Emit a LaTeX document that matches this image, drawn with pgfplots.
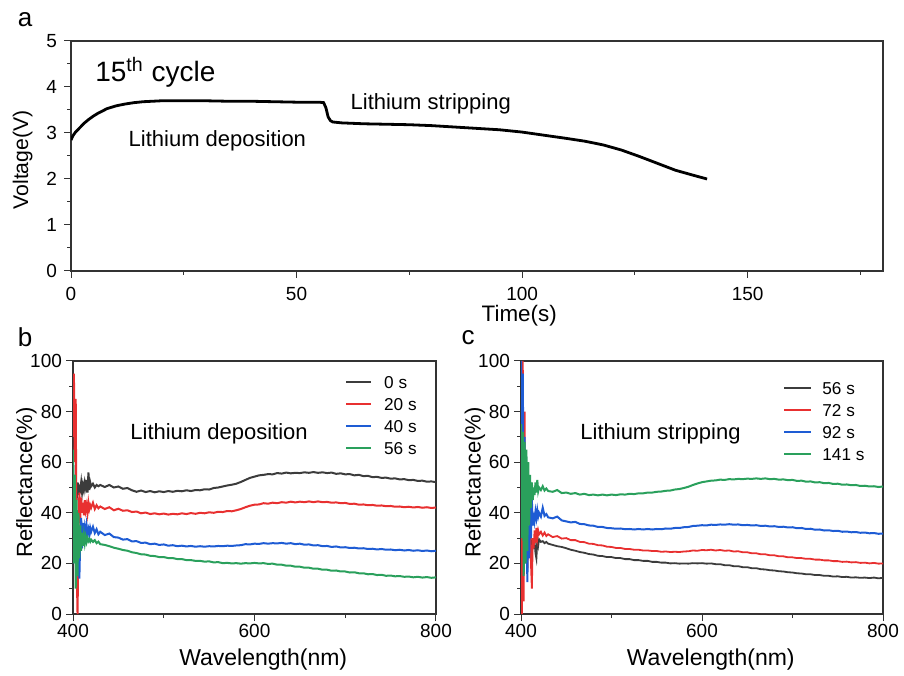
\documentclass[border=0pt]{standalone}
\usepackage{fontspec}
\setmainfont{Liberation Sans}
\usepackage{pgfplots}
\usepackage{pgfplotstable}
\pgfplotsset{compat=1.18}
\definecolor{ck}{RGB}{60,60,60}
\definecolor{cr}{RGB}{232,48,48}
\definecolor{cb}{RGB}{30,92,212}
\definecolor{cg}{RGB}{42,160,92}

\pgfplotstableread{
x V
0 2.85
0.5 2.95
1 3.02
2 3.12
3 3.22
4 3.30
5 3.37
6 3.43
7 3.48
8 3.53
9 3.56
10 3.59
12 3.63
14 3.66
16 3.68
18 3.69
20 3.70
25 3.70
30 3.70
35 3.69
40 3.69
45 3.68
50 3.67
55 3.67
56 3.66
56.5 3.55
57 3.35
57.5 3.27
58 3.24
60 3.22
65 3.20
70 3.19
75 3.18
80 3.16
85 3.13
90 3.10
95 3.07
100 3.02
105 2.95
110 2.88
114 2.82
118 2.74
122 2.63
126 2.49
130 2.34
134 2.19
138 2.08
141 2.00
}\tableA

\pgfplotstableread{
x k r b g
400 66 70 20 65
401 40 95 45 20
402 30 60 25 55
403 55 85 40 10
404 45 20 18 45
405 52 0 35 15
406 47 30 22 40
407 50 48 14 22
408 49 38 30 35
409 52 46 38 25
410 48 40 26 32
411 51 44 36 27
412 49 39 30 31
413 52 45 34 28
414 50 41 31 30.5
415 53 43 35 28.5
416 48 40 32 30
417 56 44 33.5 28.8
418 49 41.5 31 29.5
419 52 43 34 28.6
420 50.5 42 32.5 29.4
422 51.5 44 34.5 28.5
424 50 41.5 32 29.2
426 51 43 33.5 28
428 50.5 41.8 31.5 28.6
430 51 42.5 32.5 27.6
435 50.2 41.5 31.2 27.3
440 51 42.2 31.8 26.8
445 50 41 30.4 26.2
450 50.4 41.6 30.2 25.8
455 49.5 40.8 29.4 25.3
460 49.8 41 29.6 25
465 48.9 40.3 28.7 24.4
470 48.3 40.5 28.8 24.1
475 48.8 39.8 28.1 23.6
480 48.2 40.1 28.2 23.5
485 48.6 39.5 27.6 23
490 48.1 39.8 27.8 22.9
495 48.5 39.4 27.3 22.5
500 48.2 39.7 27.5 22.5
505 48.6 39.3 27 22.1
510 48.3 39.6 27.2 22.1
515 48.7 39.4 26.8 21.7
520 48.5 39.8 27 21.7
525 48.9 39.5 26.7 21.3
530 48.6 39.9 26.9 21.3
535 49 39.6 26.6 21
540 48.9 40 26.8 21
545 49.3 39.8 26.6 20.7
550 49.2 40.2 26.8 20.8
555 49.8 40 26.7 20.4
560 50 40.4 26.9 20.5
565 50.4 40.3 26.8 20.1
570 50.8 40.7 27 20.2
575 51.1 40.6 26.9 20
580 51.5 41 27.1 20.1
585 52.2 41.5 27.2 19.9
590 53 42.2 27.6 20.1
595 53.8 42.8 27.5 20
600 54.3 43.2 27.8 20.2
605 54.8 43.3 27.7 20
610 55 43.8 28 20.1
615 55.3 43.6 27.8 19.8
620 55.2 44 28 19.9
625 55.7 43.8 27.9 19.5
630 55.5 44.2 28.1 19.5
635 55.9 44 27.8 19.1
640 55.6 44.4 28 19.1
645 55.8 44.1 27.6 18.7
650 55.7 44.4 27.8 18.7
655 56 44.2 27.4 18.3
660 55.8 44.5 27.5 18.3
665 56.1 44.2 27.1 17.9
670 55.8 44.5 27.2 17.9
675 56 44.2 26.8 17.5
680 55.7 44.3 26.9 17.5
685 55.9 44 26.5 17.1
690 55.4 44.1 26.7 17.2
695 55.6 43.8 26.3 16.8
700 55.2 43.9 26.4 16.8
705 55.3 43.5 26.1 16.4
710 54.8 43.6 26.2 16.5
715 55 43.2 25.9 16.1
720 54.5 43.3 26 16.1
725 54.6 43 25.7 15.7
730 54.1 43.1 25.8 15.8
735 54.2 42.8 25.5 15.4
740 53.8 42.9 25.7 15.5
745 53.9 42.6 25.4 15.1
750 53.5 42.7 25.5 15.2
755 53.6 42.4 25.2 14.9
760 53.2 42.5 25.4 15
765 53.3 42.2 25.1 14.7
770 52.9 42.4 25.3 14.8
775 53 42.1 25 14.5
780 52.6 42.3 25.2 14.7
785 52.7 42 24.9 14.4
790 52.3 42.2 25.1 14.6
795 52.4 41.9 24.8 14.3
800 52.1 42.1 25 14.5
}\tableB

\pgfplotstableread{
x k r b g
400 25 60 100 75
401 15 0 60 30
402 30 100 95 72
403 20 5 30 15
404 28 80 70 68
405 22 20 20 20
406 27 40 45 65
407 24 18 12.6 25
408 26 30 35 60
409 25 25 22 35
410 27 35 42 55
411 24 20 30 42
412 28 10 45 52
413 26 30 35 45
414 27 26 40 50
415 28.5 33 37 47
416 24 28 40.5 52
417 22 34 38 48
418 29 30 41 53
419 27 33 38.5 48.5
420 29.5 31.5 40 50
422 28.5 32.5 38.5 49
424 28.8 31 42 50.5
426 28 32.2 38.8 48.8
428 28.5 30.8 39.5 49.6
430 27.8 31.5 38.2 48.6
435 27.3 30.4 37.8 48.3
440 26.8 30.8 38.5 49
445 26.5 29.8 37 47.8
450 26 30 36.6 48
455 25.4 29.2 36.2 47.5
460 25 29.2 36.4 47.8
465 24.5 28.5 35.6 47.2
470 24.2 28.4 35.5 47.5
475 23.7 27.8 35 47
480 23.5 27.7 34.9 47.2
485 23 27.2 34.4 46.9
490 22.9 27.1 34.4 47.2
495 22.5 26.6 34 46.9
500 22.5 26.5 33.9 47.2
505 22.1 26.1 33.7 47
510 22.1 26.1 33.8 47.3
515 21.7 25.7 33.5 47.2
520 21.7 25.7 33.6 47.5
525 21.3 25.4 33.4 47.4
530 21.3 25.4 33.6 47.7
535 21 25.1 33.4 47.7
540 21 25.1 33.6 48
545 20.6 24.9 33.4 48
550 20.6 24.9 33.6 48.3
555 20.3 24.6 33.5 48.4
560 20.3 24.7 33.8 48.7
565 20 24.5 33.7 48.8
570 20.1 24.6 34 49.2
575 19.9 24.5 34 49.4
580 20 24.7 34.3 49.8
585 19.9 24.8 34.4 50.3
590 20.1 25.1 34.8 51
595 20 25 34.9 51.6
600 20.1 25.3 35.1 52.1
605 19.9 25.2 35 52.4
610 20 25.4 35.3 52.7
615 19.7 25.1 35.2 52.8
620 19.7 25.3 35.4 53.1
625 19.3 25 35.3 53
630 19.3 25.1 35.5 53.3
635 18.9 24.7 35.3 53.2
640 18.9 24.8 35.4 53.4
645 18.5 24.4 35.1 53.3
650 18.5 24.4 35.2 53.5
655 18.1 24 35 53.4
660 18.1 24 35.1 53.6
665 17.7 23.6 34.8 53.4
670 17.6 23.6 34.9 53.6
675 17.3 23.2 34.6 53.3
680 17.2 23.2 34.7 53.4
685 16.9 22.8 34.4 53.1
690 16.8 22.8 34.5 53.2
695 16.5 22.4 34.2 52.9
700 16.4 22.4 34.3 53
705 16.1 22.1 33.9 52.6
710 16 22.1 34 52.7
715 15.7 21.8 33.6 52.3
720 15.7 21.8 33.7 52.4
725 15.4 21.5 33.3 52
730 15.4 21.5 33.4 52.1
735 15.1 21.2 33 51.7
740 15.1 21.2 33.1 51.8
745 14.8 20.9 32.8 51.4
750 14.9 20.9 32.9 51.5
755 14.6 20.6 32.5 51.1
760 14.7 20.7 32.6 51.2
765 14.4 20.4 32.3 50.9
770 14.5 20.5 32.4 51
775 14.3 20.2 32.1 50.6
780 14.4 20.3 32.2 50.7
785 14.2 20 31.9 50.4
790 14.4 20.2 32 50.5
795 14.1 19.9 31.7 50.2
800 14.3 20 31.8 50.4
}\tableC

\pgfplotsset{
  panel/.style={
    scale only axis,
    axis line style={line width=0.6pt, black!80},
    tick style={black!80, line width=0.5pt},
    tick align=outside,
    major tick length=3.5pt,
    minor tick length=2pt,
    xtick pos=bottom, ytick pos=left,
    tick label style={font=\fontsize{9.5}{11}\selectfont},
    /pgf/number format/assume math mode=true,
  },
  spec/.style={
    panel,
    width=181.5pt, height=126.5pt,
    xmin=400, xmax=800, ymin=0, ymax=100,
    xtick={400,600,800}, minor xtick={500,700},
    ytick={0,20,40,60,80,100}, minor ytick={10,30,50,70,90},
    xticklabel style={yshift=2pt},
    yticklabel style={xshift=1.5pt},
    xlabel={Wavelength(nm)},
    ylabel={Reflectance(\%)},
    every axis x label/.style={at={(axis description cs:0.524,-0.2016)}, anchor=base, font=\fontsize{11.5}{13}\selectfont},
    legend cell align=left,
    legend style={draw=none, fill=none, inner sep=0pt, outer sep=0pt,
      font=\fontsize{8.6}{10}\selectfont,
      nodes={inner sep=0pt, text height=6.5pt, text depth=0pt},
      row sep=4.5pt},
  },
}

\begin{document}
\begin{tikzpicture}
\useasboundingbox (0,0) rectangle (452pt,337.5pt);

% Panel a
\begin{axis}[panel,
  at={(35.5pt,202pt)}, anchor=south west,
  width=406pt, height=115pt,
  xmin=0, xmax=180, ymin=0, ymax=5,
  xtick={0,50,100,150}, minor xtick={25,75,125,175},
  ytick={0,1,2,3,4,5}, minor ytick={0.5,1.5,2.5,3.5,4.5},
  xticklabel style={yshift=-1pt},
  xlabel={Time(s)}, ylabel={Voltage(V)},
  every axis x label/.style={at={(axis description cs:0.552,-0.22)}, anchor=base, font=\fontsize{11.2}{13}\selectfont},
  every axis y label/.style={at={(axis description cs:-0.0597,0.483)}, rotate=90, anchor=center, font=\fontsize{10.6}{12}\selectfont},
]
\addplot[black, line width=1.4pt] table[x=x, y=V] {\tableA};
\node[anchor=base west, inner sep=0pt, font=\fontsize{14}{16}\selectfont] at (axis cs:5.3,4.12) {15\textsuperscript{th} cycle};
\node[anchor=base west, inner sep=0pt, font=\fontsize{11}{13}\selectfont] at (axis cs:12.7,2.70) {Lithium deposition};
\node[anchor=base west, inner sep=0pt, font=\fontsize{11}{13}\selectfont] at (axis cs:61.9,3.52) {Lithium stripping};
\end{axis}

% Panel b
\begin{axis}[spec,
  at={(36.5pt,30.5pt)}, anchor=south west,
  every axis y label/.style={at={(axis description cs:-0.128,0.52)}, rotate=90, anchor=center, font=\fontsize{11}{13}\selectfont},
  legend style={at={(0.749,0.943)}, anchor=north west},
  legend image code/.code={\draw[#1, line width=1.3pt] (0pt,0pt) -- (12.5pt,0pt); \path (18.5pt,0pt);},
]
\addplot[ck, line width=1pt] table[x=x, y=k] {\tableB};
\addlegendentry{0 s}
\addplot[cr, line width=1pt] table[x=x, y=r] {\tableB};
\addlegendentry{20 s}
\addplot[cb, line width=1pt] table[x=x, y=b] {\tableB};
\addlegendentry{40 s}
\addplot[cg, line width=1pt] table[x=x, y=g] {\tableB};
\addlegendentry{56 s}
\node[anchor=base west, inner sep=0pt, font=\fontsize{11}{13}\selectfont] at (axis cs:462.8,68.8) {Lithium deposition};
\end{axis}

% Panel c
\begin{axis}[spec,
  at={(260.5pt,30.5pt)}, anchor=south west, width=181pt,
  every axis y label/.style={at={(axis description cs:-0.127,0.52)}, rotate=90, anchor=center, font=\fontsize{11}{13}\selectfont},
  legend style={at={(0.724,0.919)}, anchor=north west},
  legend image code/.code={\draw[#1, line width=1.3pt] (0pt,0pt) -- (13.5pt,0pt); \path (18.5pt,0pt);},
]
\addplot[ck, line width=0.9pt] table[x=x, y=k] {\tableC};
\addlegendentry{56 s}
\addplot[cr, line width=0.9pt] table[x=x, y=r] {\tableC};
\addlegendentry{72 s}
\addplot[cb, line width=1pt] table[x=x, y=b] {\tableC};
\addlegendentry{92 s}
\addplot[cg, line width=1pt] table[x=x, y=g] {\tableC};
\addlegendentry{141 s}
\node[anchor=base west, inner sep=0pt, font=\fontsize{11}{13}\selectfont] at (axis cs:465.2,69) {Lithium stripping};
\end{axis}

% panel letters
\node[font=\fontsize{13}{15}\selectfont, inner sep=0pt] at (12.5pt,327.5pt) {a};
\node[font=\fontsize{13}{15}\selectfont, inner sep=0pt] at (12.5pt,168.75pt) {b};
\node[font=\fontsize{13}{15}\selectfont, inner sep=0pt] at (234pt,168.5pt) {c};
\end{tikzpicture}
\end{document}
